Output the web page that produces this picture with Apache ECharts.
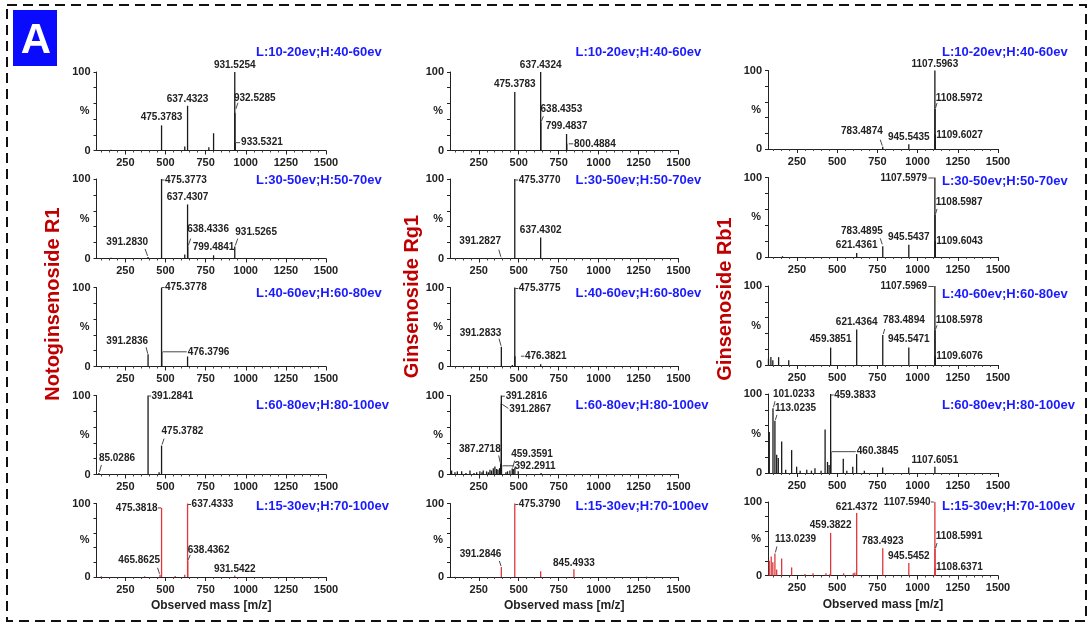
<!DOCTYPE html>
<html>

<head>
	<meta charset="UTF-8" />
	<title></title>
	<style type="text/css">
		* {
			margin: 0;
			padding: 0;
		}

		#main {
			width: 1091px;
			height: 623px;
			background-color: #fff;
		}
	</style>
</head>

<body>
	<div id="main"></div>
</body>
<script src="https://cdn.jsdelivr.net/npm/echarts@6/dist/echarts.min.js"></script>
<script type="text/javascript">
	// 标题 / 碰撞能量
	var compounds = ['Notoginsenoside R1', 'Ginsenoside Rg1', 'Ginsenoside Rb1']
	var energies = ['L:10-20ev;H:40-60ev', 'L:30-50ev;H:50-70ev', 'L:40-60ev;H:60-80ev', 'L:60-80ev;H:80-100ev', 'L:15-30ev;H:70-100ev']
	var xTicks = [250, 500, 750, 1000, 1250, 1500]
	var xName = 'Observed mass [m/z]'

	// 峰 [m/z, 相对强度%]，每个化合物5行
	var peaksR1 = [
		[[160, 1], [475.3783, 32], [620, 5], [637.4323, 57], [770, 4], [799.4837, 22], [931.5254, 100], [932.5285, 48], [933.5321, 10]],
		[[160, 1], [391.2830, 2], [475.3773, 100], [620, 5], [637.4307, 68], [638.4336, 15], [799.4841, 4], [931.5265, 15], [1350, 0.5]],
		[[391.2836, 15.6], [475.3778, 100], [476.3796, 18.6], [637.43, 12.7]],
		[[85.0286, 2], [391.2841, 100], [460, 3], [475.3782, 36.6]],
		[[100, 1], [370, 1], [465.8625, 3], [475.3818, 94], [560, 1.5], [620, 3], [637.4333, 100], [638.4362, 22], [931.5422, 2]]
	]
	var peaksRg1 = [
		[[475.3783, 74.5], [637.4324, 100], [638.4353, 36], [799.4837, 21], [800.4884, 8.5]],
		[[160, 0.5], [391.2827, 1], [475.3770, 100], [637.4302, 26.5], [1270, 0.5]],
		[[391.2833, 25], [460, 2], [475.3775, 100], [476.3821, 13], [637.4, 3]],
		[[80, 5], [101, 3], [116, 4], [143, 4], [170, 2], [195, 5], [220, 2], [237, 3], [257, 4], [270, 3], [278, 5], [299, 4],
			[310, 3], [320, 6], [330, 5], [341, 8], [351, 10], [362, 7], [370, 6], [380, 8], [387.2718, 14], [391.2816, 100],
			[391.2867, 90], [392.2911, 11], [420, 3], [430, 4], [445, 5], [459.3591, 7.5], [466, 7], [476, 9], [497, 4], [640, 2]],
		[[100, 0.5], [391.2846, 13.6], [475.3790, 100], [637.4, 7.7], [845.4933, 10.5], [1300, 0.5]]
	]
	var peaksRb1 = [
		[[783.4874, 3], [945.5435, 6], [1107.5963, 100], [1108.5972, 51], [1109.6027, 18]],
		[[160, 1], [621.4361, 5], [783.4895, 13.4], [945.5437, 15.5], [1107.5979, 100], [1108.5987, 53], [1109.6043, 20]],
		[[73, 8], [88, 10], [100, 6], [136, 10], [199, 6], [459.3851, 22], [621.4364, 45], [783.4894, 38], [945.5471, 22],
			[1107.5969, 100], [1108.5978, 44], [1109.6076, 11]],
		[[78, 52], [101.0233, 82], [113.0235, 66], [124, 23], [134, 19], [155, 40], [180, 4], [217, 29], [248, 8], [270, 3],
			[311, 4], [340, 3], [362, 6], [400, 3], [425, 55], [440, 14], [450, 10], [459.3833, 100], [460.3845, 27], [538, 18],
			[560, 3], [597, 8], [621, 24], [669, 3], [783, 7], [945, 7], [1107.6051, 8]],
		[[78, 20], [90, 26], [100, 18], [113.0239, 30], [124, 8], [155, 23], [217, 11], [300, 2], [350, 3], [430, 3], [455, 2],
			[459.3822, 58], [540, 3], [600, 3], [610, 4], [621.4372, 85], [783.4923, 37], [945.5452, 17], [1107.5940, 100],
			[1108.5991, 36], [1108.6371, 11], [1260, 0.5]]
	]

	// 标注的峰
	var labelsR1 = [
		['931.5254', '637.4323', '475.3783', '932.5285', '933.5321'],
		['475.3773', '637.4307', '638.4336', '391.2830', '799.4841', '931.5265'],
		['475.3778', '391.2836', '476.3796'],
		['391.2841', '475.3782', '85.0286'],
		['475.3818', '637.4333', '638.4362', '465.8625', '931.5422']
	]
	var labelsRg1 = [
		['475.3783', '637.4324', '638.4353', '799.4837', '800.4884'],
		['475.3770', '637.4302', '391.2827'],
		['475.3775', '391.2833', '476.3821'],
		['391.2816', '391.2867', '387.2718', '459.3591', '392.2911'],
		['475.3790', '391.2846', '845.4933']
	]
	var labelsRb1 = [
		['1107.5963', '1108.5972', '1109.6027', '783.4874', '945.5435'],
		['1107.5979', '1108.5987', '1109.6043', '783.4895', '621.4361', '945.5437'],
		['1107.5969', '1108.5978', '1109.6076', '621.4364', '783.4894', '459.3851', '945.5471'],
		['101.0233', '113.0235', '459.3833', '460.3845', '1107.6051'],
		['1107.5940', '621.4372', '459.3822', '113.0239', '783.4923', '945.5452', '1108.5991', '1108.6371']
	]

	// 标注位置 [dx, dy, 对齐, 引线]
	var layR1 = [
		[[0, -7, 't'], [0, -7, 't'], [0, -8, 't'], [-1, -15, 'l', [1, -4, 3, -10]], [6, 0, 'l', [1, 0, 5, 0]]],
		[[3.5, 1, 'l', [0.5, 1, 3, 1]], [0, -7, 't'], [-0.5, -17, 'l', [0.5, -1, 3, -8]], [0, -15, 'r', [-0.5, -1, -3, -8]], [0, -8, 't'], [0.5, -14, 'l', [0.5, -1, 3, -8]]],
		[[3.5, 0, 'l', [0.5, 0, 3, 0]], [0, -12.5, 'r', [-0.3, -0.5, -2, -7]], [26, 0, 'l', [1, 0, 25, 0]]],
		[[3.5, 0.5, 'l', [0.5, 0.5, 3, 0.5]], [0, -14, 'l', [0.5, -1, 2.5, -7]], [0, -14.5, 'l', [0.5, -1, 2.5, -8]]],
		[[-4, 0, 'r', [-0.5, 0, -3.5, 0]], [4, 1, 'l', [0.5, 1, 3.5, 1]], [0, -11, 'l', [0.5, -1, 2.5, -6]], [0, -14.5, 'r', [-0.5, -1, -2.5, -7]], [0, -6.5, 't']]
	]
	var layRg1 = [
		[[0, -7.5, 't'], [0, -7, 't'], [-0.3, -12.7, 'l', [0.5, -1, 2.5, -6]], [0, -7.5, 't'], [7.3, 0, 'l', [2, 0, 6.5, 0]]],
		[[4, 1, 'l', [0.5, 1, 3.5, 1]], [0, -7, 't'], [-0.3, -16.5, 'r', [-0.5, -1, -2.5, -8]]],
		[[4, 1, 'l', [0.5, 1, 3.5, 1]], [0, -13.5, 'r', [-0.3, -1, -2.3, -8]], [10, 0, 'l', [6, 0, 9.5, 0]]],
		[[4.3, 0.7, 'l', [0.5, 0.7, 3.5, 0.7]], [8, 6, 'l', [1, 1, 7, 5]], [0, -14, 'r', [-0.5, -1, -2, -8]], [-1, -14.3, 'l', [0.5, -1, 2.5, -8]], [13, 0, 'l', [1, 0, 12, 0]]],
		[[4, 1, 'l', [0.5, 1, 3.5, 1]], [0, -12.7, 'r', [-0.3, -1, -2, -6]], [0, -6.5, 't']]
	]
	var layRb1 = [
		[[0, -6.7, 't'], [0.7, -11, 'l', [0.5, -1, 2, -6]], [1, 0, 'l'], [0, -15, 'r', [-0.5, -1, -2.5, -7]], [0, -7.3, 't']],
		[[-7.7, 0.7, 'r', [-1, 0.5, -6.5, 0.5]], [0.7, -12.7, 'l', [0.5, -1, 2, -6]], [1, 0, 'l'], [0, -15, 'r', [-0.5, -2, -2.5, -8]], [0, -7.7, 't'], [0, -7.7, 't']],
		[[-7.7, 0.5, 'r', [-1, 0.5, -6.5, 0.5]], [0.7, -10, 'l', [0.5, -1, 2, -5]], [1, 0, 'l'], [0, -7, 't'], [0.3, -14.3, 'l', [0.5, -1, 2, -6]], [0, -8.3, 't'], [0, -8.3, 't']],
		[[0, -14, 'l', [0.5, -1, 2, -7]], [0, -13, 'l', [0.5, -1, 2, -6]], [3.5, 1, 'l', [0.5, 1, 3, 1]], [26, 0, 'l', [1, 0, 25, 0]], [0, -6.7, 't']],
		[[-4.3, 0, 'r', [-1, 0, -4, 0]], [0, -5.5, 't'], [0, -7.3, 't'], [0, -14, 'l', [0.5, -1, 2, -7]], [0, -7, 't'], [0, -6.3, 't'], [0.7, -12.3, 'l', [0.5, -1, 2, -6]], [1, 0, 'l']]
	]

	var allPeaks = [peaksR1, peaksRg1, peaksRb1]
	var allLabels = [labelsR1, labelsRg1, labelsRb1]
	var allLay = [layR1, layRg1, layRb1]

	var FONT = 'Arial, "Liberation Sans", sans-serif'
	var colLeft = [96.5, 450, 768]
	var colRight = [326, 678.5, 998]
	var colShift = [0, 0, -1.5]
	var rowTop = [72, 179, 287.5, 395.5, 503.5]
	var rowBottom = [150.5, 258.5, 366.5, 474.5, 577]
	var titleX = [256, 575.5, 942]
	var titleY = [52, 180.5, 293.5, 405, 506]
	var nameX = [53.5, 412, 725]
	var nameY = [304, 296.5, 299]

	var minorTicks = []
	for (var m = 100; m <= 1500; m += 50) {
		if (m % 250 !== 0) minorTicks.push(m)
	}

	function stickRender(color) {
		return function (params, api) {
			var top = api.coord([api.value(0), api.value(1)])
			var base = api.coord([api.value(0), 0])
			return {
				type: 'line',
				silent: true,
				shape: { x1: top[0], y1: base[1], x2: top[0], y2: top[1] },
				style: { stroke: color, lineWidth: 1.3 }
			}
		}
	}

	function labelRender(texts, lays) {
		return function (params, api) {
			var p = api.coord([api.value(0), api.value(1)])
			var L = lays[params.dataIndex]
			var align = L[2] === 't' ? 'center' : (L[2] === 'l' ? 'left' : 'right')
			var kids = [{
				type: 'text',
				silent: true,
				style: {
					text: texts[params.dataIndex],
					x: p[0] + L[0],
					y: p[1] + L[1],
					align: align,
					verticalAlign: 'middle',
					font: 'bold 10px ' + FONT,
					fill: '#222'
				}
			}]
			if (L[3]) {
				kids.push({
					type: 'line',
					silent: true,
					shape: { x1: p[0] + L[3][0], y1: p[1] + L[3][1], x2: p[0] + L[3][2], y2: p[1] + L[3][3] },
					style: { stroke: '#333', lineWidth: 0.9 }
				})
			}
			return { type: 'group', children: kids }
		}
	}

	var grids = [], xAxes = [], yAxes = [], series = []
	var graphics = [
		{
			type: 'rect', silent: true,
			shape: { x: 7, y: 5, width: 1079, height: 616 },
			style: { fill: 'none', stroke: '#111', lineWidth: 2, lineDash: [10, 6] }
		},
		{
			type: 'rect', silent: true,
			shape: { x: 13, y: 10, width: 44, height: 56 },
			style: { fill: '#0a0aff' }
		},
		{
			type: 'text', silent: true,
			style: { text: 'A', x: 36, y: 41, align: 'center', verticalAlign: 'middle', font: 'bold 42px ' + FONT, fill: '#fff' }
		}
	]

	for (var c = 0; c < 3; c++) {
		graphics.push({
			type: 'text', silent: true,
			x: nameX[c], y: nameY[c], rotation: Math.PI / 2,
			style: { text: compounds[c], x: 0, y: 0, align: 'center', verticalAlign: 'middle', font: 'bold 20px ' + FONT, fill: '#c00000' }
		})
		for (var r = 0; r < 5; r++) {
			var idx = c * 5 + r
			var last = r === 4
			var color = last ? '#e0363c' : '#1a1a1a'
			grids.push({
				left: colLeft[c],
				top: rowTop[r] + colShift[c],
				width: colRight[c] - colLeft[c],
				height: rowBottom[r] - rowTop[r],
				containLabel: false,
				outerBoundsMode: 'none'
			})
			xAxes.push({
				gridIndex: idx, type: 'value', min: 70, max: 1500, position: 'bottom',
				name: last ? xName : '',
				nameLocation: 'middle', nameGap: 23, nameMoveOverlap: false,
				nameTextStyle: { fontFamily: FONT, fontWeight: 'bold', fontSize: 12, color: '#222' },
				axisLine: { lineStyle: { color: '#222', width: 1 } },
				axisTick: { show: true, customValues: xTicks, length: 4, lineStyle: { color: '#222' } },
				axisLabel: {
					customValues: xTicks, margin: 7, fontFamily: FONT, fontWeight: 'bold', fontSize: 11, color: '#222',
					formatter: function (v) { return String(v) }
				},
				splitLine: { show: false }
			})
			xAxes.push({
				gridIndex: idx, type: 'value', min: 70, max: 1500, position: 'bottom',
				axisLine: { show: false },
				axisTick: { show: true, customValues: minorTicks, length: 2, lineStyle: { color: '#444' } },
				axisLabel: { show: false },
				splitLine: { show: false }
			})
			yAxes.push({
				gridIndex: idx, type: 'value', min: 0, max: 100, interval: 20,
				name: '%', nameLocation: 'middle', nameRotate: 0, nameGap: 7, nameMoveOverlap: false,
				nameTextStyle: { fontFamily: FONT, fontWeight: 'bold', fontSize: 11, color: '#222' },
				axisLine: { show: true, lineStyle: { color: '#222', width: 1 } },
				axisTick: { show: true, length: 3, lineStyle: { color: '#222' } },
				axisLabel: {
					margin: 6, fontFamily: FONT, fontWeight: 'bold', fontSize: 11, color: '#222',
					formatter: function (v) { return v === 100 ? '100' : (v === 0 ? '0' : '') }
				},
				splitLine: { show: false }
			})

			var pk = allPeaks[c][r]
			var texts = allLabels[c][r]
			var lp = texts.map(function (t) {
				var mz = parseFloat(t)
				var hit = pk.filter(function (d) { return d[0] === mz })[0]
				return [mz, hit ? hit[1] : 0]
			})
			series.push({
				type: 'custom', xAxisIndex: idx * 2, yAxisIndex: idx,
				data: pk, renderItem: stickRender(color), z: 2
			})
			series.push({
				type: 'custom', xAxisIndex: idx * 2, yAxisIndex: idx,
				data: lp, renderItem: labelRender(texts, allLay[c][r]), z: 3
			})

			graphics.push({
				type: 'text', silent: true,
				style: { text: energies[r], x: titleX[c], y: titleY[r] + (c === 2 && r > 0 ? 0.5 : 0), align: 'left', verticalAlign: 'middle', font: 'bold 13px ' + FONT, fill: '#1a1aff' }
			})
		}
	}

	var myChart = echarts.init(document.getElementById('main'))
	myChart.setOption({
		animation: false,
		backgroundColor: '#fff',
		grid: grids,
		xAxis: xAxes,
		yAxis: yAxes,
		series: series,
		graphic: graphics
	})
</script>

</html>
